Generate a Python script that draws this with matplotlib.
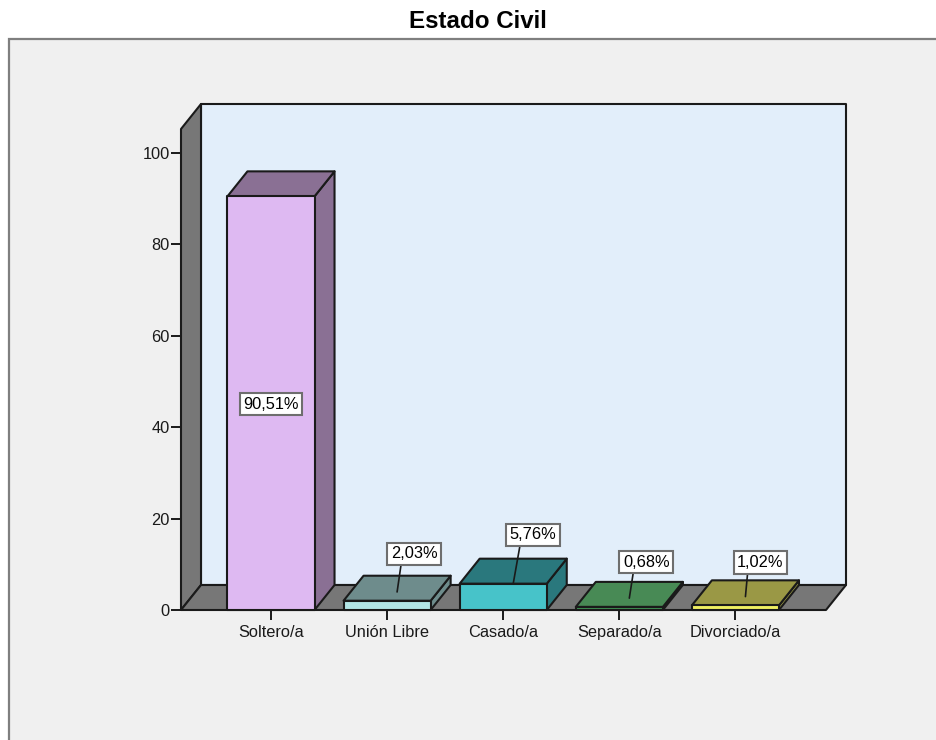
import matplotlib
matplotlib.use('Agg')
import matplotlib.pyplot as plt
from matplotlib.patches import Polygon, Rectangle

plt.rcParams['font.family'] = ['Liberation Sans', 'DejaVu Sans']

# Datos del grafico
categorias = ['Soltero/a', 'Unión Libre', 'Casado/a', 'Separado/a', 'Divorciado/a']
valores = [90.51, 2.03, 5.76, 0.68, 1.02]
etiquetas = ['90,51%', '2,03%', '5,76%', '0,68%', '1,02%']
ticks_y = [0, 20, 40, 60, 80, 100]

colores_frente = ['#DEB9F2', '#B3E6E6', '#47C3C9', '#3F9152', '#EFEF62']
colores_lado = ['#8A7094', '#6E8C8C', '#2A787D', '#488A55', '#9A9845']

# Desplazamiento de las etiquetas (pixeles) respecto a la barra
offset_etiq = [(0, 0), (17, 38), (20, 49), (17, 36), (15, 34)]
# Donde empieza la linea de la etiqueta, como fraccion de la profundidad
base_linea = [0, 0.35, 0, 0.35, 0.35]

ANCHO, ALTO = 936, 740
fig = plt.figure(figsize=(ANCHO / 100, ALTO / 100), dpi=100, facecolor='white')

# Panel gris de fondo
fig.add_artist(Rectangle((9 / ANCHO, -0.02), 1.0, 1.02 - 39 / ALTO, transform=fig.transFigure,
                         facecolor='#F0F0F0', edgecolor='#7F7F7F', linewidth=1.6, zorder=-1))

fig.text(478 / ANCHO, 1 - 21 / ALTO, 'Estado Civil', ha='center', va='center',
         fontsize=17.4, fontweight='bold', color='black')

ax = fig.add_axes([181 / ANCHO, 1 - 610 / ALTO, 645 / ANCHO, 481 / ALTO])
ax.set_xlim(-0.775, 4.78)
ax.set_ylim(0, 105.25)
ax.patch.set_visible(False)

# Profundidad 3D en unidades de datos
prof_x = 20 / 116.1
prof_y = 25 / 4.57
x0, x1 = ax.get_xlim()
y1 = ax.get_ylim()[1]
borde = dict(edgecolor='#1A1A1A', linewidth=1.5, clip_on=False, joinstyle='round')


def poligono(puntos, color, z):
    ax.add_patch(Polygon(puntos, closed=True, facecolor=color, zorder=z, **borde))


# Paredes y suelo
poligono([(x0 + prof_x, prof_y), (x1 + prof_x, prof_y), (x1 + prof_x, y1 + prof_y), (x0 + prof_x, y1 + prof_y)], '#E2EEFA', 1)
poligono([(x0, 0), (x0 + prof_x, prof_y), (x0 + prof_x, y1 + prof_y), (x0, y1)], '#777777', 1)
poligono([(x0, 0), (x1, 0), (x1 + prof_x, prof_y), (x0 + prof_x, prof_y)], '#777777', 1)

# Barras
w = 0.375
for i, v in enumerate(valores):
    poligono([(i + w, 0), (i + w + prof_x, prof_y), (i + w + prof_x, v + prof_y), (i + w, v)], colores_lado[i], 3)
    poligono([(i - w, v), (i + w, v), (i + w + prof_x, v + prof_y), (i - w + prof_x, v + prof_y)], colores_lado[i], 3)
    poligono([(i - w, 0), (i + w, 0), (i + w, v), (i - w, v)], colores_frente[i], 4)

# Etiquetas de valor
caja = dict(boxstyle='square,pad=0.22', facecolor='white', edgecolor='#6E6E6E', linewidth=1.5)
for i, v in enumerate(valores):
    if i == 0:
        ax.text(i, v / 2 - 0.2, etiquetas[i], ha='center', va='center', fontsize=11.8, bbox=caja, zorder=6)
    else:
        dx, dy = offset_etiq[i]
        ax.annotate(etiquetas[i], xy=(i + prof_x / 2, v + prof_y * base_linea[i]), xytext=(dx, dy),
                    textcoords='offset pixels', ha='center', va='center', fontsize=11.8, bbox=caja, zorder=6,
                    arrowprops=dict(arrowstyle='-', color='#1A1A1A', linewidth=1.2, shrinkA=0, shrinkB=0, relpos=(0.23, 0)))

ax.set_xticks(range(len(categorias)))
ax.set_xticklabels(categorias)
ax.set_yticks(ticks_y)
ax.tick_params(axis='both', length=7.5, width=1.4, color='#1A1A1A', labelsize=11.8, labelcolor='#1A1A1A')
ax.tick_params(axis='x', pad=3)
ax.tick_params(axis='y', pad=0.5)
for lado in ['top', 'right', 'left', 'bottom']:
    ax.spines[lado].set_visible(False)

plt.savefig('out.png', dpi=100)
